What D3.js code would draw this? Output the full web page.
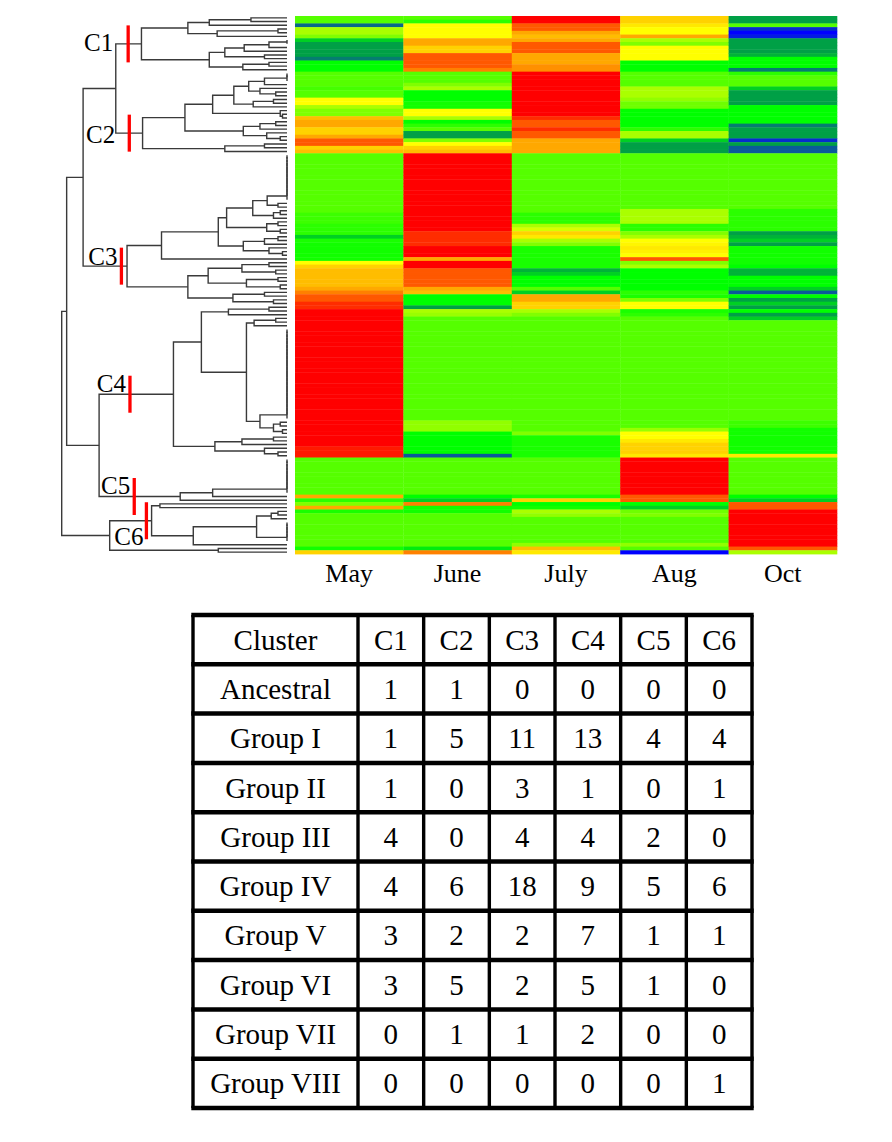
<!DOCTYPE html>
<html>
<head>
<meta charset="utf-8">
<script src="https://d3js.org/d3.v7.min.js"></script>
<style>
  body { margin: 0; background: #fff; }
  svg text { font-family: "Liberation Serif", "Times New Roman", serif; fill: #000; }
</style>
</head>
<body>
<div id="chart"></div>
<script>
// ---- data ----
var months = ["May", "June", "July", "Aug", "Oct"];

// expression level per gene row (0 = blue, 4 = lime baseline, 10 = red), rows top to bottom
var may = [
  4,4,1.2,5,5,4.5,2.5,2,2,2,2,1.5,3,3,3,
  4,4,4,4,3.8,4,4, 6,6,5,4.5,4.5, 7.5,8,8,7,7,8,9,9,7,7.5,
  4,4,4,4,4,4,4,4,4,4,4,4,4,4,4,4, 3.7,3.7,3.7, 3.5,3.5,3.5, 2.5,3.3, 3.2,3.2,3.2,3.2,3.2, 6,7, 7.5,7.5,7.5,7.5, 7.5,8,8.5,9,9,9.5,
  9.5, 10,10,10,10,10,10,10,10,10,10,10,10,10,10,10,10,10,10,10,10,10,10,10,10,10,10,10,10,10,10,10,10,10,10,10,10,10, 9.7,9.7,9.7,
  4,4,4,4,4,4,4,4,4,4, 8,3.5,
  4.5,8,3.3, 4,4,4,4,4,4,4,4,4, 3.2,7
];
var june = [
  4,3.5,6,6,6,6,8,8,7,7,9,9,9,9,8.5,
  4,4,4,4.5,5,3,3,3,3.2,3.2,6,6,5,3,3.5,4,2,2,4.5,6,7,7.5,
  10,10,10,10,10,10,10,10,10,10,10,10,10,10,10,10,10,10,10,10,10, 9.5,9.5,9.5,9.5, 10,10,10, 8, 10,10, 9,9,9,9,9, 8,7.5, 3,3,3,
  2,5,4.8, 4,4,4,4,4,4,4,4,4,4,4,4,4,4,4,4,4,4,4,4,4,4,4,4,4,4,4,4, 4.7,4.7,4.7, 3,3,3,3,3,3, 1,
  4,4,4,4,4,4,4,4,4,4, 3,2.5,
  8.5,3.2,3.2, 4,4,4,4,4,4,4,4,4, 2.8,8.5
];
var july = [
  10,10,9,9,8,7.5,8,9,9,9,8,8,8,8.3,8.3,
  10,10,10,10,10,10,10,10,10,10,10,10, 9.5,9,9,9.5,9,9,8,8,8,8,
  4,4,4,4,4,4,4,4,4,4,4,4,4,4,4,4, 3.5,3.5,3.5, 5,5.5,7,6.5,5,4.5, 3.3,3.3,3.3,3.3,3.3,3.3, 2.2,2.5, 3,3,3, 4,2.5, 8,8,7,
  7,5,4.5, 4,4,4,4,4,4,4,4,4,4,4,4,4,4,4,4,4,4,4,4,4,4,4,4,4,4,4,4,4,4,4, 4.5, 3.3,3.3,3.3,3.3,3.3,3.3,
  4,4,4,4,4,4,4,4,4,4, 3.3,7,
  3,3.2,5,4.7, 4,4,4,4,4,4,4, 4.7,7.5,6.5
];
var aug = [
  7,7,6.5,6,6,8,5,4.5,6,6,6,6,3,3,3,
  4,4,4,4,5,5,5,4.7,4.3,4.3,3,3,3,3,3,3.5,5,5,2.5,2,2,2,
  4,4,4,4,4,4,4,4,4,4,4,4,4,4,4, 5,5,5,5, 3.5,3.5, 4.5,5,6,6.2,6.5,6.3,6,9,4.5,5, 3,3,3,3,3,3, 3.5,3.3,4.5,6,
  6,3.3,3.5, 4,4,4,4,4,4,4,4,4,4,4,4,4,4,4,4,4,4,4,4,4,4,4,4,4,4,4,4,4,4, 4.8,6,6,6.5,7,7,7,6.5,
  10,10,10,10,10,10,10,10,10,10, 9,9,
  3,2.5,4.3,4.5, 4,4,4,4,4,4,4, 4.7,4,0
];
var oct = [
  2,2,4,0.5,0,0.3,2,2,2,2,2.2,3,3,3,1.5,
  3.5,4,4,4,2.5,2,2,2,2,3,3,3,3,3,1.5,2,2,2,0.5,2,1,1,
  4,4,4,4,4,4,4,4,4,4,4,4,4,4,4, 3.5,3.5,3.5,3.5,3.5,3.5, 2,2.2,2.5,2, 3.2,3.2,3.2,3.2,3.2, 3,2.2,2.2, 3,3,3, 2.5,1,3,2,2.5,
  2,3,2,2.5, 4,4,4,4,4,4,4,4,4,4,4,4,4,4,4,4,4,4,4,4,4,4,4,4,4,4,4, 3.7,3.7, 3.2,3.2,3.2,3.2,3.2,3.2,3.2, 6.5,
  4,4,4,4,4,4,4,4,4,4, 3,2.5,
  9,9, 10,10,10,10,10,10,10,10,10,10, 9,5
];
var series = [may, june, july, aug, oct];

// dendrogram: [height, upper, lower]; a number k = k tied leaves (k = 1 is one leaf)
var clusterNames = ["C1", "C2", "C3", "C4", "C5", "C6"];
var c1Tree = [0.646,
  [0.44, [0.345, [0.16, 1, 1], 1], [0.31, [0.04, 1, 1], 1]],
  [0.345, [0.276, [0.19, [0.08, 2, 1], 1], [0.1, 1, 1]], [0.196, [0.08, 1, 1], 1]]];
var c2Tree = [0.641,
  [0.453,
    [0.33, [0.236, [0.17, [0.1, 3, 1], [0.12, 1, [0.05, 1, 1]]], [0.15, [0.06, 1, 1], 1]], [0.03, 1, [0.02, 1, 1]]],
    [0.194, [0.12, [0.05, 1, 1], 1], [0.09, 1, [0.03, 1, 1]]]],
  [0.276, [0.1, 1, 1], 1]];
var c3Tree = [0.71,
  [0.557,
    [0.305,
      [0.268, [0.152, [0.088, 13, [0.04, 1, 1]], [0.06, [0.03, 1, 1], 1]], [0.09, [0.04, 1, 1], [0.03, 1, 1]]],
      [0.194, [0.1, [0.04, 1, 1], 1], [0.08, 1, [0.02, 1, 1]]]],
    1],
  [0.44,
    [0.35, [0.2, [0.08, 1, 1], [0.05, 1, 1]], [0.18, [0.04, 1, 1], [0.03, 1, 1]]],
    [0.24, [0.1, 1, 1], [0.06, 1, 1]]]];
var c4Tree = [0.504,
  [0.38,
    [0.26, [0.08, 1, 1], 1],
    [0.18, [0.146, [0.05, 1, 1], 1], [0.12, 25, [0.06, [0.03, 1, 1], [0.02, 1, 1]]]]],
  [0.32, [0.2, [0.06, 1, 1], 1], [0.1, 1, [0.04, 1, 1]]]];
var c5Tree = [0.474, [0.33, 10, 1], 1];
var c6Tree = [0.601, [0.564, 1, 1], [0.416, [0.135, [0.07, [0.04, 1, 1], 1], 6], 1]];
var clusterTrees = [c1Tree, c2Tree, c3Tree, c4Tree, c5Tree, c6Tree];
var topTree = [1.0,
  [0.978, [0.905, [0.76, "C1", "C2"], "C3"], [0.834, "C4", "C5"]],
  [0.787, "C6", [0.305, 1, 1]]];
// height at which each cluster is cut (red marks)
var cutHeights = [0.705, 0.70, 0.735, 0.697, 0.678, 0.624];

// table
var tableHead = "Cluster";
var groups = ["Ancestral", "Group I", "Group II", "Group III", "Group IV", "Group V", "Group VI", "Group VII", "Group VIII"];
var counts = [
  [1, 1, 0, 0, 0, 0],
  [1, 5, 11, 13, 4, 4],
  [1, 0, 3, 1, 0, 1],
  [4, 0, 4, 4, 2, 0],
  [4, 6, 18, 9, 5, 6],
  [3, 2, 2, 7, 1, 1],
  [3, 5, 2, 5, 1, 0],
  [0, 1, 1, 2, 0, 0],
  [0, 0, 0, 0, 0, 1]
];

// ---- drawing ----
var W = 892, H = 1142;
var svg = d3.select("#chart").append("svg")
    .attr("width", W)
    .attr("height", H);
svg.append("rect").attr("width", W).attr("height", H).attr("fill", "#fff");

var nRows = may.length;

var x = d3.scaleBand().domain(months).range([295, 837]);
var y = d3.scaleBand().domain(d3.range(nRows)).range([16, 554]);
var color = d3.scaleLinear()
    .domain([0, 1, 2, 3, 4, 5, 6, 7, 8, 9, 10])
    .range(["#0000ff", "#0a5a9a", "#00a046", "#00ff00", "#55ff00", "#aaff00",
            "#ffff00", "#ffd200", "#ffa800", "#ff5800", "#ff0000"])
    .clamp(true);

// heatmap
var cells = [];
series.forEach(function(s, j) {
  s.forEach(function(v, i) { cells.push({month: months[j], row: i, value: v}); });
});
svg.append("g").selectAll("rect")
    .data(cells)
    .enter().append("rect")
    .attr("x", function(d) { return x(d.month); })
    .attr("y", function(d) { return y(d.row); })
    .attr("width", x.bandwidth() + 0.3)
    .attr("height", y.bandwidth() + 0.4)
    .attr("fill", function(d) { return color(d.value); });

svg.append("g").selectAll("text")
    .data(months)
    .enter().append("text")
    .attr("x", function(d) { return x(d) + x.bandwidth() / 2; })
    .attr("y", 582)
    .attr("text-anchor", "middle")
    .attr("font-size", 26)
    .text(function(d) { return d; });

// dendrogram
function build(spec) {
  if (typeof spec === "string") {
    var c = build(clusterTrees[clusterNames.indexOf(spec)]);
    c.cluster = spec;
    return c;
  }
  if (typeof spec === "number") {
    var node = {h: 0};
    for (var k = 1; k < spec; k++) node = {h: 0, children: [node, {h: 0}]};
    return node;
  }
  return {h: spec[0], children: [build(spec[1]), build(spec[2])]};
}

var root = d3.hierarchy(build(topTree));
var hx = d3.scaleLinear().domain([0, 1]).range([287, 61.7]);

root.leaves().forEach(function(l, i) { l.py = y(i) + y.bandwidth() / 2; });
root.eachAfter(function(n) {
  n.px = hx(n.data.h);
  if (n.children) n.py = (n.children[0].py + n.children[1].py) / 2;
});

var links = [];
root.each(function(n) { if (n.children) links.push(n); });
svg.append("g")
    .attr("fill", "none")
    .attr("stroke", "#3a3a3a")
    .attr("stroke-width", 1.4)
  .selectAll("path")
    .data(links)
    .enter().append("path")
    .attr("d", function(n) {
      var a = n.children[0], b = n.children[1];
      return "M" + a.px + "," + a.py + "H" + n.px + "V" + b.py + "H" + b.px;
    });

var clusterNodes = [];
root.each(function(n) { if (n.data.cluster) clusterNodes.push(n); });
clusterNodes.sort(function(a, b) { return clusterNames.indexOf(a.data.cluster) - clusterNames.indexOf(b.data.cluster); });

// label offsets from the red mark
var labelNudge = [[-15, 7], [-14, 10], [-4, -1], [-4, -2], [-4, -2], [-3, 24]];

var marks = svg.append("g");
clusterNodes.forEach(function(n, i) {
  var mx = hx(cutHeights[i]);
  marks.append("line")
      .attr("x1", mx).attr("x2", mx)
      .attr("y1", n.py - 18.5).attr("y2", n.py + 18.5)
      .attr("stroke", "#ff0000")
      .attr("stroke-width", 3.3);
  marks.append("text")
      .attr("x", mx + labelNudge[i][0])
      .attr("y", n.py + labelNudge[i][1])
      .attr("text-anchor", "end")
      .attr("font-size", 25)
      .text(n.data.cluster);
});

// table
var rowNames = [tableHead].concat(groups);
var ty = d3.scaleBand().domain(rowNames).range([615, 1108]);
var tx = d3.scaleBand().domain(clusterNames).range([358, 752]);
var tLeft = 193, tRight = 752;

var table = svg.append("g");
var rowRecords = rowNames.map(function(name, r) {
  return {name: name, values: r === 0 ? clusterNames : counts[r - 1]};
});

rowRecords.forEach(function(rec) {
  var cy = ty(rec.name) + ty.bandwidth() / 2 + 10;
  table.append("text")
      .attr("x", (tLeft + tx.range()[0]) / 2)
      .attr("y", cy)
      .attr("text-anchor", "middle")
      .attr("font-size", 29)
      .text(rec.name);
  table.selectAll(null)
      .data(rec.values)
      .enter().append("text")
      .attr("x", function(d, j) { return tx(clusterNames[j]) + tx.bandwidth() / 2; })
      .attr("y", cy)
      .attr("text-anchor", "middle")
      .attr("font-size", 29)
      .text(function(d) { return d; });
});

// grid lines
var hLines = rowNames.map(function(r) { return ty(r); }).concat([ty.range()[1]]);
var vLines = [tLeft].concat(clusterNames.map(function(c) { return tx(c); })).concat([tRight]);
table.selectAll(".h")
    .data(hLines)
    .enter().append("line")
    .attr("x1", tLeft - 1.7).attr("x2", tRight + 1.7)
    .attr("y1", function(d) { return d; }).attr("y2", function(d) { return d; })
    .attr("stroke", "#000")
    .attr("stroke-width", 4.5);
table.selectAll(".v")
    .data(vLines)
    .enter().append("line")
    .attr("y1", 615).attr("y2", 1108)
    .attr("x1", function(d) { return d; }).attr("x2", function(d) { return d; })
    .attr("stroke", "#000")
    .attr("stroke-width", 3.4);
</script>
</body>
</html>
